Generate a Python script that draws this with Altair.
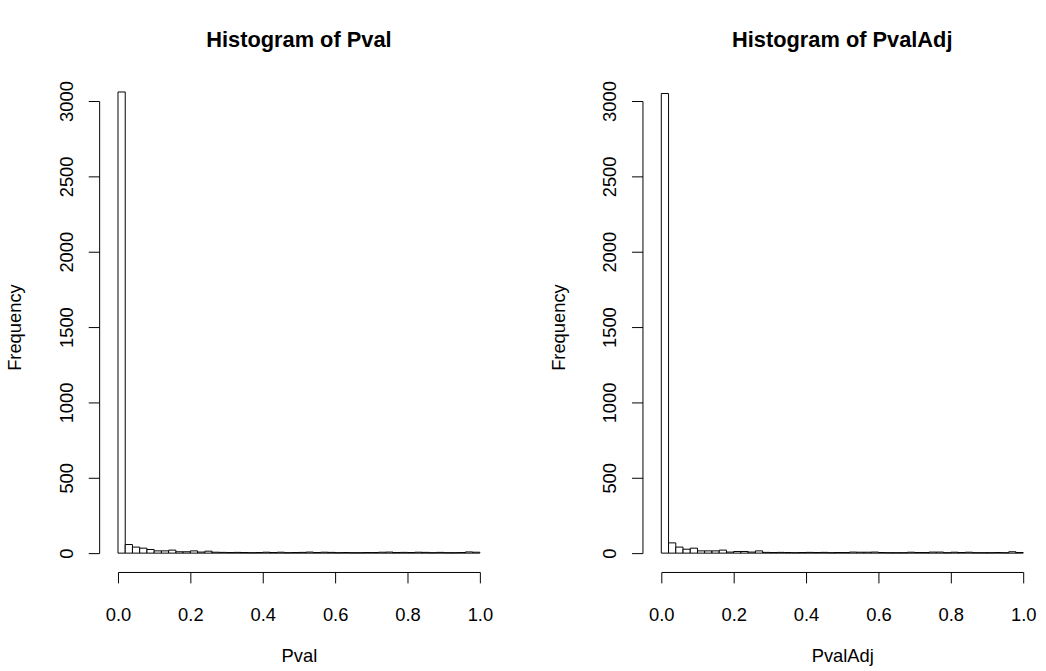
import altair as alt
import pandas as pd

bin_width = 0.02

pval_counts = [3060, 57, 40, 33, 24, 15, 15, 20, 9, 9, 15, 7, 13,
               6, 5, 4, 5, 4, 3, 4, 6, 4, 6, 3, 4, 5, 7, 4, 6, 5,
               3, 4, 3, 3, 4, 4, 6, 7, 4, 5, 4, 6, 5, 3, 5, 3, 3, 4, 8, 6]

pvaladj_counts = [3050, 68, 40, 26, 33, 15, 15, 15, 20, 7, 11, 11, 7,
                  15, 5, 4, 5, 4, 3, 4, 5, 4, 5, 3, 4, 4, 7, 6, 6, 7,
                  4, 3, 3, 3, 6, 4, 4, 7, 7, 3, 6, 4, 6, 3, 3, 3, 4, 3, 9, 4]

x_ticks = [0.0, 0.2, 0.4, 0.6, 0.8, 1.0]
y_ticks = [0, 500, 1000, 1500, 2000, 2500, 3000]

FONT = "Liberation Sans"


def make_df(counts):
    starts = [round(i * bin_width, 4) for i in range(len(counts))]
    ends = [round((i + 1) * bin_width, 4) for i in range(len(counts))]
    return pd.DataFrame({"start": starts, "end": ends, "count": counts,
                         "zero": [0] * len(counts)})


def panel(counts, name):
    df = make_df(counts)
    return alt.Chart(df).mark_rect(
        fill="white", stroke="black", strokeWidth=1
    ).encode(
        x=alt.X("start:Q",
                scale=alt.Scale(domain=[0, 1], nice=False, zero=False),
                axis=alt.Axis(values=x_ticks, format=".1f", title=name,
                              offset=19, tickSize=11, labelPadding=23,
                              titlePadding=23, grid=False)),
        x2="end:Q",
        y=alt.Y("count:Q",
                scale=alt.Scale(domain=[0, 3000], nice=False),
                axis=alt.Axis(values=y_ticks, format="d", title="Frequency",
                              offset=19, tickSize=11, labelAngle=270,
                              labelAlign="center", labelBaseline="bottom",
                              labelPadding=12, titlePadding=33, grid=False)),
        y2="zero:Q",
    ).properties(
        width=365, height=456,
        title=alt.TitleParams(f"Histogram of {name}", fontSize=22,
                              fontWeight="bold", font=FONT, color="black",
                              anchor="middle", offset=29),
    )


chart = alt.hconcat(
    panel(pval_counts, "Pval"), panel(pvaladj_counts, "PvalAdj"), spacing=57
).properties(
    padding={"left": 6, "top": 26, "right": 10, "bottom": 5},
    background="white",
).configure_view(stroke=None).configure_axis(
    domainColor="black", tickColor="black", labelColor="black",
    titleColor="black", labelFont=FONT, titleFont=FONT,
    labelFontSize=18.5, titleFontSize=18.5, titleFontWeight="normal",
    domainWidth=1, tickWidth=1, labelOverlap=False, labelFlush=False,
)

chart.save("out.html", embed_options={"renderer": "svg", "actions": False})
